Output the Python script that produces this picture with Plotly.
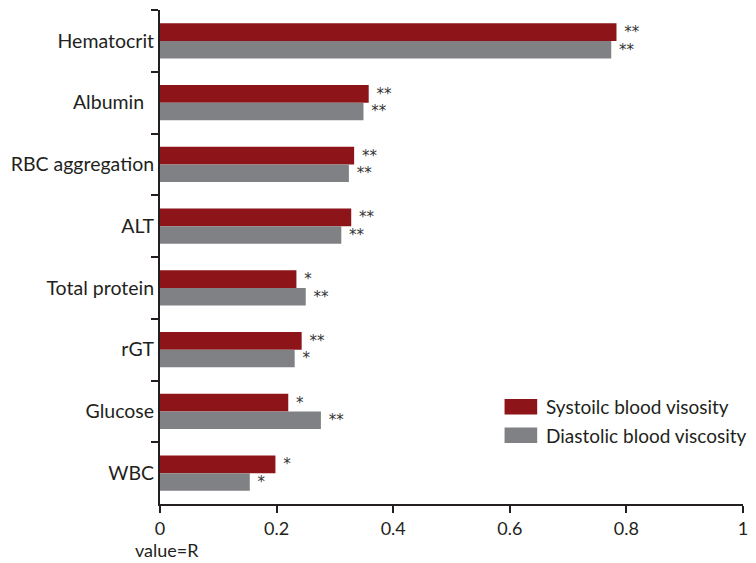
import plotly.graph_objects as go

# data
markers = ["Hematocrit", "Albumin\u00a0\u00a0", "RBC aggregation", "ALT",
           "Total protein", "rGT", "Glucose", "WBC"]
systolic = [0.783, 0.358, 0.333, 0.328, 0.234, 0.243, 0.220, 0.198]
diastolic = [0.774, 0.349, 0.324, 0.311, 0.250, 0.231, 0.276, 0.154]
systolic_sig = ["**", "**", "**", "**", "*", "**", "*", "*"]
diastolic_sig = ["**", "**", "**", "**", "**", "*", "**", "*"]
x_ticks = [0, 0.2, 0.4, 0.6, 0.8, 1]
x_labels = ["0", "0.2", "0.4", "0.6", "0.8", "1"]
series_names = ["Systoilc blood visosity", "Diastolic blood viscosity"]

RED = "#8d1418"
GRAY = "#808184"
INK = "#231f20"
FONT = "Lato, Noto Sans, sans-serif"

# the page body has an 8px margin, so the figure is shrunk and shifted by that much
W, H = 748, 555

fig = go.Figure()
for name, vals, sig, col in [(series_names[0], systolic, systolic_sig, RED),
                             (series_names[1], diastolic, diastolic_sig, GRAY)]:
    fig.add_trace(go.Bar(
        y=markers, x=vals, orientation="h", name=name,
        marker=dict(color=col, line=dict(width=0)),
        text=["\u00a0" + s for s in sig], textposition="outside",
        textfont=dict(size=15, color="#333333", family="DejaVu Sans"),
        constraintext="none", cliponaxis=False,
    ))

# custom legend with large swatches
legend_rows = [(0.181, 0.2126, 0.1968), (0.1235, 0.155, 0.139)]
for (y0, y1, ym), name, col in zip(legend_rows, series_names, [RED, GRAY]):
    fig.add_shape(type="rect", xref="paper", yref="paper",
                  x0=0.591, x1=0.647, y0=y0, y1=y1, fillcolor=col,
                  line=dict(width=0))
    fig.add_annotation(text=name, xref="paper", yref="paper", x=0.659, y=ym,
                       xanchor="left", yanchor="middle", showarrow=False,
                       font=dict(size=19, color=INK, family=FONT))

fig.add_annotation(text="value=R", xref="paper", yref="paper", x=-0.047, y=-0.093,
                   xanchor="left", yanchor="middle", showarrow=False,
                   font=dict(size=18, color=INK, family=FONT))

fig.update_layout(
    width=W, height=H,
    margin=dict(l=152, r=13, t=2, b=59, autoexpand=False),
    paper_bgcolor="white", plot_bgcolor="white",
    barmode="group", bargap=0.43, bargroupgap=0,
    showlegend=False,
    font=dict(family=FONT, color=INK),
)
fig.update_xaxes(range=[0, 1], tickvals=x_ticks, ticktext=x_labels, automargin=False,
                 showgrid=False, zeroline=False, showline=True, linecolor=INK,
                 linewidth=2, ticks="outside", ticklen=7, tickwidth=2, tickcolor=INK,
                 tickfont=dict(size=18, color=INK, family=FONT))
fig.update_yaxes(autorange="reversed", tickson="boundaries", showgrid=False,
                 automargin=False, showline=True, linecolor=INK, linewidth=2,
                 ticks="outside", ticklen=7, tickwidth=2, tickcolor=INK,
                 tickfont=dict(size=19.5, color=INK, family=FONT))

fig.write_html("out.html")
